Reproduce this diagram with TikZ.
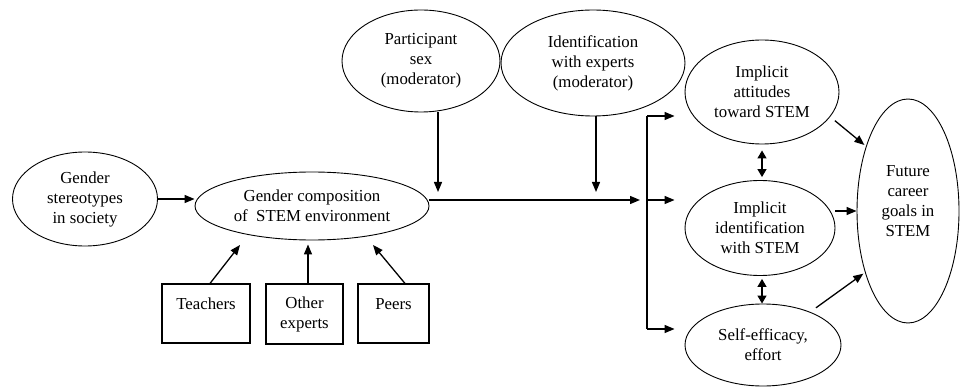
\documentclass[tikz,border=0pt]{standalone}
\usepackage{fontspec}
\setmainfont{Liberation Serif}
\usetikzlibrary{arrows.meta,shapes,positioning,calc}

\begin{document}
\begin{tikzpicture}[x=1pt,y=-1pt,
    font=\fontsize{16.8}{20}\selectfont,
    oval/.style={draw,ellipse,line width=0.9pt,inner sep=0pt,align=center},
    srcbox/.style={draw,rectangle,line width=1.1pt,inner sep=0pt,align=center},
    arr/.style={line width=1.3pt,-{Triangle[length=10pt,width=8pt]}},
    dblarr/.style={line width=1.3pt,{Triangle[length=8pt,width=9pt]}-{Triangle[length=8pt,width=9pt]}}]

    % Page size
    \useasboundingbox (0,0) rectangle (960,387);

    % ---- left side ----
    \node[oval,minimum width=145,minimum height=94] (stereo) at (85,199)
        {Gender\\stereotypes\\in society};
    \node[oval,minimum width=234,minimum height=68] (comp) at (312,206)
        {Gender composition\\of\ \ STEM environment};

    % sources of the environment
    \node[srcbox,minimum width=88,minimum height=59] (teach) at (206,313.5) {Teachers\\\mbox{}};
    \node[srcbox,minimum width=77,minimum height=60] (other) at (304.5,314) {Other\\experts};
    \node[srcbox,minimum width=71,minimum height=59] (peers) at (393.5,313.5) {Peers\\\mbox{}};

    % ---- moderators ----
    \node[oval,minimum width=158,minimum height=102] (partsex) at (421,61)
        {Participant\\sex\\(moderator)};
    \node[oval,minimum width=184,minimum height=106] (idexp) at (593,63)
        {Identification\\with experts\\(moderator)};

    % ---- outcomes ----
    \node[oval,minimum width=154,minimum height=104] (att) at (762,92)
        {Implicit\\attitudes\\toward STEM};
    \node[oval,minimum width=150,minimum height=95] (iden) at (760,228)
        {Implicit\\identification\\with STEM};
    \node[oval,minimum width=156,minimum height=82] (eff) at (763,345)
        {Self-efficacy,\\effort};
    \node[oval,minimum width=102,minimum height=224] (goal) at (908,211)
        {Future\\career\\goals in\\STEM\\\mbox{}};

    % Helper points on the paths
    \coordinate (tipA) at (240,245);
    \coordinate (tipC) at (373,245);
    \coordinate (mainend) at (640,200);
    \coordinate (modA) at (438,192);
    \coordinate (modB) at (596,192);
    \coordinate (brtop) at (647,116);
    \coordinate (brmid) at (647,200);
    \coordinate (brbot) at (647,329);

    % ---- connectors ----
    \draw[arr] (stereo.east) -- (stereo.east -| comp.west);
    \draw[arr] ([xshift=4pt]teach.north) -- (tipA);
    \draw[arr,shorten >=4pt] ([xshift=3.5pt]other.north) -- ([xshift=3.5pt]other.north |- comp.south);
    \draw[arr] ([xshift=11.5pt]peers.north) -- (tipC);

    \draw[arr] (mainend -| comp.east) -- (mainend);
    \draw[arr] (modA |- partsex.south) -- (modA);
    \draw[arr] (modB |- idexp.south) -- (modB);

    % branch to the three outcomes
    \draw[line width=1.3pt] (brtop) -- (brbot);
    \draw[arr,shorten >=10pt] (brtop) -- (brtop -| att.west);
    \draw[arr,shorten >=10pt] (brmid) -- (brmid -| iden.west);
    \draw[arr,shorten >=10pt] (brbot) -- (brbot -| eff.west);

    \draw[dblarr,shorten <=6pt,shorten >=3pt] (att.south) -- (att.south |- iden.north);
    \draw[dblarr,shorten <=3pt] (att.south |- iden.south) -- (att.south |- eff.north);

    \draw[arr,shorten <=6pt,shorten >=2pt] (att.-20) -- (goal.123);
    \draw[arr] (goal.west -| iden.east) -- (goal.west);
    \draw[arr,shorten <=7pt,shorten >=2pt] (eff.35) -- (goal.235);

\end{tikzpicture}
\end{document}
